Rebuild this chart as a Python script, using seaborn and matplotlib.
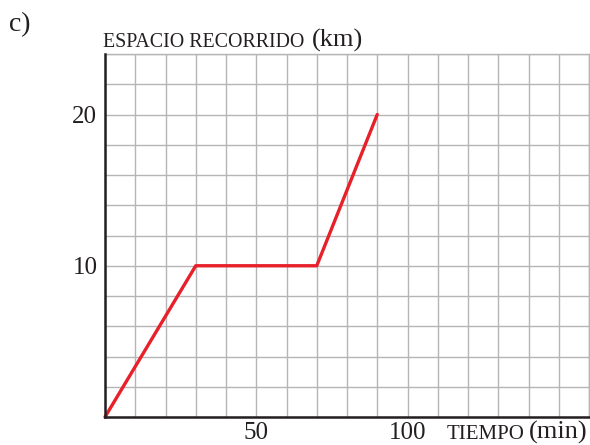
import matplotlib
matplotlib.use("Agg")
import matplotlib.pyplot as plt
import seaborn as sns
import pandas as pd
import numpy as np

# Data
tiempo = [0, 30, 70, 90]          # min
espacio = [0, 10, 10, 20]         # km
x_ticks = [50, 100]
y_ticks = [10, 20]

sns.set_style("white")
plt.rcParams['font.family'] = ['Liberation Serif', 'DejaVu Serif']

W, H = 590, 445
fig = plt.figure(figsize=(W / 100, H / 100), dpi=100)
ax = fig.add_axes([105 / W, 1 - 417 / H, (589 - 105) / W, (417 - 54) / H])

df = pd.DataFrame({"tiempo": tiempo, "espacio": espacio})
sns.lineplot(data=df, x="tiempo", y="espacio", ax=ax, color="#e8202a",
             linewidth=2.4, zorder=5, clip_on=False, sort=False)

ax.set_xlim(0, 160)
ax.set_ylim(0, 24)
ax.set_xticks(x_ticks)
ax.set_yticks(y_ticks)
ax.set_xticklabels([str(v) for v in x_ticks])
ax.set_yticklabels([str(v) for v in y_ticks])
ax.set_xticks(np.arange(0, 161, 10), minor=True)
ax.set_yticks(np.arange(0, 25, 2), minor=True)
ax.tick_params(which="major", direction="inout", length=7, width=1.6,
               color="#231f20", labelsize=18, labelcolor="#231f20")
ax.tick_params(axis="x", which="major", pad=0)
ax.tick_params(axis="y", which="major", pad=2)
ax.tick_params(which="minor", length=0)
ax.grid(which="both", color="#b5b5b5", linewidth=1.0)
ax.set_axisbelow(True)
ax.set_xlabel("")
ax.set_ylabel("")

for s in ["left", "bottom"]:
    ax.spines[s].set_color("#231f20")
    ax.spines[s].set_linewidth(1.8)
    ax.spines[s].set_zorder(6)
for s in ["top", "right"]:
    ax.spines[s].set_color("#b5b5b5")
    ax.spines[s].set_linewidth(1.0)

def fx(px):
    return px / W

def fy(py):
    return 1 - py / H

fig.text(fx(9), fy(25), "c)", fontsize=20, va="center", ha="left", color="#231f20")
fig.text(fx(103), fy(47), "ESPACIO RECORRIDO", fontsize=14.3, va="baseline", ha="left", color="#231f20")
fig.text(fx(312), fy(47), "(km)", fontsize=19, va="baseline", ha="left", color="#231f20")
fig.text(fx(447), fy(439), "TIEMPO", fontsize=15, va="baseline", ha="left", color="#231f20")
fig.text(fx(588), fy(439), "(min)", fontsize=19, va="baseline", ha="right", color="#231f20")

fig.savefig("out.png", dpi=100)
